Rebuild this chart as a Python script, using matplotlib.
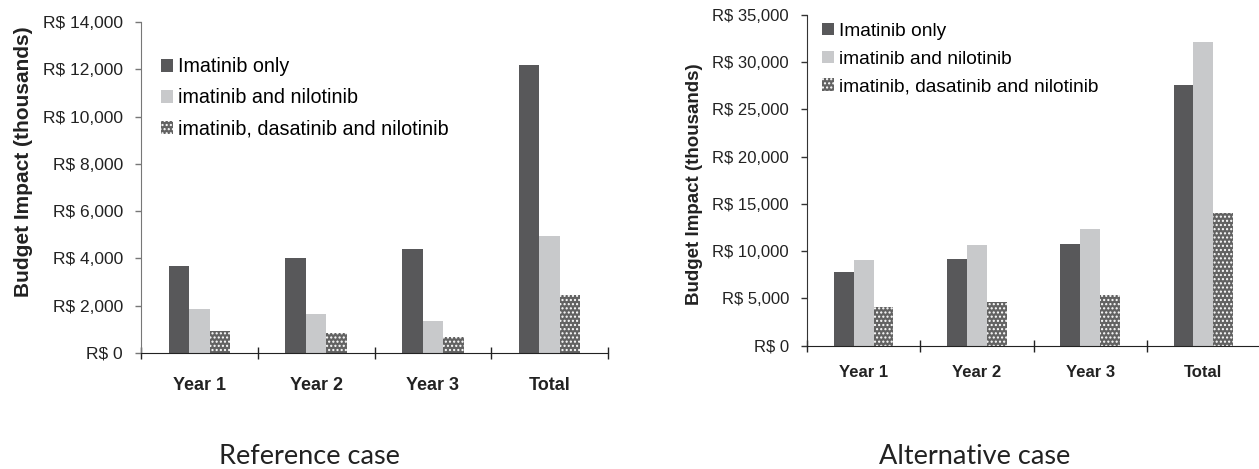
import numpy as np
import matplotlib
matplotlib.use("Agg")
import matplotlib.pyplot as plt
from matplotlib.patches import Patch
from matplotlib.ticker import FuncFormatter

# data (thousands of R$)
categories = ["Year 1", "Year 2", "Year 3", "Total"]
series_names = ["Imatinib only", "imatinib and nilotinib", "imatinib, dasatinib and nilotinib"]

ref_imatinib = [3700, 4020, 4400, 12180]
ref_ima_nilo = [1860, 1650, 1350, 4950]
ref_ima_dasa_nilo = [930, 850, 680, 2450]

alt_imatinib = [7800, 9170, 10760, 27550]
alt_ima_nilo = [9060, 10650, 12330, 32100]
alt_ima_dasa_nilo = [4090, 4620, 5360, 14020]

plt.rcParams["font.family"] = ["Liberation Sans", "DejaVu Sans"]
plt.rcParams["hatch.color"] = "white"
plt.rcParams["hatch.linewidth"] = 1.0

dark = "#58585a"
light = "#c8c9cb"
patt = "#626262"

fig = plt.figure(figsize=(12.59, 4.69), dpi=100)
ax1 = fig.add_axes([141 / 1259, 1 - 353 / 469, 467 / 1259, 331 / 469])
ax2 = fig.add_axes([807 / 1259, 1 - 345.7 / 469, 453 / 1259, 331 / 469])

money = FuncFormatter(lambda v, p: "R$ {:,.0f}".format(v))


def draw(ax, s1, s2, s3, ymax, ystep, fs, leg_xy, leg_space, lab_xy, spine_col, xpad):
    x = np.arange(len(categories))
    w = 0.175
    ax.bar(x - w, s1, w, color=dark, linewidth=0)
    ax.bar(x, s2, w, color=light, linewidth=0)
    ax.bar(x + w, s3, w, color=patt, hatch="....", linewidth=0)

    ax.set_xlim(-0.5, len(categories) - 0.5)
    ax.set_ylim(0, ymax)
    ax.set_yticks(np.arange(0, ymax + 1, ystep))
    ax.yaxis.set_major_formatter(money)
    ax.tick_params(axis="y", direction="out", length=4, width=1, pad=9,
                   labelsize=fs["tick"], colors="#222222")
    ax.tick_params(axis="y", color=spine_col)

    ax.set_xticks(np.arange(-0.5, len(categories)), labels=[""] * (len(categories) + 1))
    ax.set_xticks(x, labels=categories, minor=True)
    ax.tick_params(axis="x", which="major", direction="inout", length=8, width=1, color="#222222")
    ax.tick_params(axis="x", which="minor", length=0, pad=xpad, labelsize=fs["cat"])
    for t in ax.get_xticklabels(minor=True):
        t.set_fontweight("bold")
        t.set_color("#222222")

    ax.spines["top"].set_visible(False)
    ax.spines["right"].set_visible(False)
    ax.spines["left"].set_color(spine_col)
    ax.spines["bottom"].set_color("#222222")

    ax.set_ylabel("Budget Impact (thousands)", fontsize=fs["ylab"], fontweight="bold", color="#222222")
    ax.yaxis.set_label_coords(*lab_xy)

    handles = [Patch(facecolor=dark, linewidth=0),
               Patch(facecolor=light, linewidth=0),
               Patch(facecolor=patt, hatch="....", linewidth=0)]
    ax.legend(handles, series_names, loc="upper left", bbox_to_anchor=leg_xy,
              frameon=False, fontsize=fs["leg"], handlelength=0.62, handleheight=0.62,
              handletextpad=0.25, labelspacing=leg_space, borderpad=0, borderaxespad=0)


draw(ax1, ref_imatinib, ref_ima_nilo, ref_ima_dasa_nilo, 14000, 2000,
     {"tick": 12.5, "cat": 13, "ylab": 15, "leg": 14.2},
     (0.043, 0.893), 0.6, (-0.232, 0.577), "#777777", 17)
draw(ax2, alt_imatinib, alt_ima_nilo, alt_ima_dasa_nilo, 35000, 5000,
     {"tick": 12, "cat": 12, "ylab": 13.5, "leg": 13.8},
     (0.033, 0.975), 0.55, (-0.23, 0.489), "#333333", 14)

fig.text(309 / 1259, 1 - 456 / 469, "Reference case", ha="center", va="center",
         fontsize=19.5, family=["Lato", "DejaVu Sans"], color="#222222")
fig.text(975 / 1259, 1 - 456 / 469, "Alternative case", ha="center", va="center",
         fontsize=19.5, family=["Lato", "DejaVu Sans"], color="#222222")

fig.savefig("out.png", dpi=100)
